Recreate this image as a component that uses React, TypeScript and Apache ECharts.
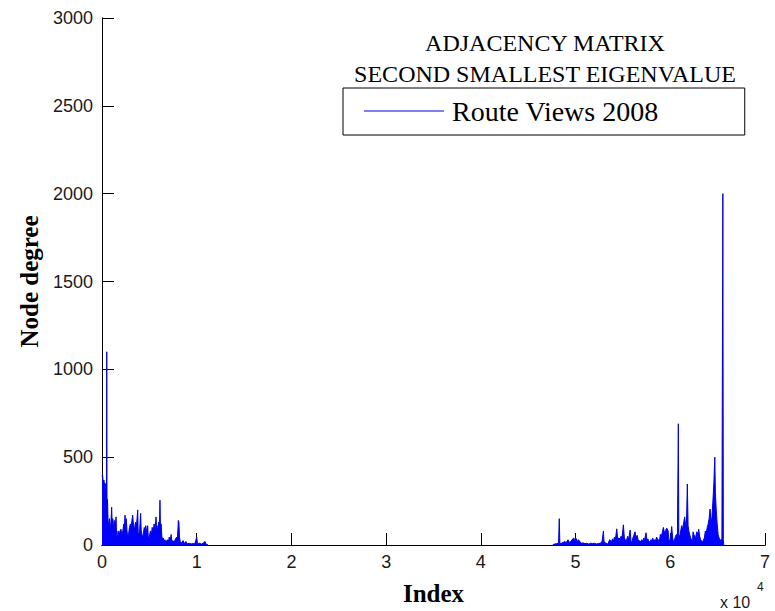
import React, { useEffect, useRef } from "react";
import * as echarts from "echarts";

const leftIndex = [
  0, 60, 120, 200, 280, 350, 420, 470, 500, 530, 580, 640, 700, 780, 860, 940, 1020, 1080, 1140, 1220,
  1300, 1380, 1480, 1540, 1620, 1700, 1800, 1900, 2000, 2100, 2200, 2300, 2350, 2430, 2480, 2560, 2640, 2720, 2800, 2900,
  3000, 3080, 3160, 3240, 3300, 3380, 3460, 3540, 3620, 3700, 3770, 3820, 3900, 3980, 4080, 4140, 4220, 4300, 4380, 4460,
  4540, 4620, 4700, 4780, 4820, 4880, 4960, 5040, 5120, 5200, 5300, 5400, 5500, 5600, 5700, 5760, 5820, 5900, 5980, 6060,
  6120, 6180, 6240, 6320, 6400, 6480, 6560, 6640, 6760, 6900, 7000, 7100, 7200, 7300, 7380, 7500, 7620, 7760, 7880, 7960,
  8060, 8120, 8180, 8260, 8400, 8560, 8700, 8860, 9000, 9200, 9400, 9600, 9800, 10000, 10080, 10300, 10500, 10700, 10880, 10960,
  11200,
];
const leftDegree = [
  390, 400, 360, 370, 340, 350, 300, 140, 1100, 160, 260, 140, 110, 150, 80, 130, 215, 110, 150, 90,
  140, 70, 160, 60, 40, 80, 50, 80, 90, 60, 80, 120, 70, 170, 100, 150, 80, 40, 60, 100,
  120, 100, 140, 170, 130, 110, 80, 130, 100, 150, 200, 70, 60, 90, 180, 80, 60, 40, 70, 100,
  80, 110, 80, 60, 110, 50, 40, 60, 80, 50, 100, 70, 120, 80, 160, 100, 110, 70, 130, 90,
  255, 80, 120, 50, 30, 40, 20, 30, 15, 30, 15, 45, 25, 60, 20, 25, 15, 35, 45, 30,
  140, 130, 45, 20, 12, 25, 8, 20, 6, 10, 6, 8, 6, 45, 6, 10, 5, 12, 20, 6,
  0,
];
const rightIndex = [
  47600, 47800, 48000, 48200, 48280, 48340, 48500, 48700, 48900, 49000, 49200, 49350, 49500, 49700, 49800, 49900, 50000, 50100, 50200, 50300,
  50450, 50600, 50800, 51000, 51200, 51400, 51600, 51800, 52000, 52200, 52400, 52600, 52800, 52940, 53000, 53200, 53400, 53600, 53700, 53800,
  53900, 54000, 54100, 54200, 54350, 54450, 54550, 54700, 54800, 54900, 55050, 55150, 55250, 55350, 55500, 55600, 55760, 55850, 55950, 56050,
  56150, 56280, 56380, 56500, 56600, 56700, 56800, 56900, 57000, 57100, 57200, 57300, 57440, 57540, 57640, 57740, 57850, 57950, 58050, 58150,
  58250, 58350, 58450, 58550, 58650, 58750, 58850, 58950, 59050, 59150, 59270, 59350, 59450, 59550, 59650, 59770, 59850, 59950, 60050, 60150,
  60250, 60350, 60450, 60550, 60650, 60750, 60850, 60900, 61000, 61100, 61200, 61300, 61420, 61520, 61600, 61700, 61800, 61880, 61960, 62050,
  62150, 62250, 62350, 62400, 62500, 62600, 62700, 62800, 62900, 63000, 63100, 63200, 63300, 63400, 63500, 63600, 63700, 63800, 63900, 64000,
  64100, 64200, 64300, 64400, 64500, 64600, 64700, 64760, 64850, 64950, 65050, 65150, 65250, 65350, 65450, 65550, 65600, 65650,
];
const rightDegree = [
  3, 5, 8, 10, 150, 8, 10, 15, 20, 12, 30, 15, 20, 35, 40, 25, 40, 35, 15, 30,
  20, 10, 12, 8, 10, 5, 10, 8, 10, 6, 8, 10, 20, 80, 20, 10, 5, 30, 25, 20,
  35, 20, 45, 30, 92, 30, 40, 35, 50, 40, 115, 40, 30, 20, 50, 30, 85, 20, 15, 40,
  55, 75, 40, 55, 30, 20, 25, 15, 30, 20, 40, 30, 70, 20, 35, 15, 20, 30, 25, 40,
  20, 30, 25, 45, 35, 30, 20, 60, 50, 70, 100, 80, 60, 90, 95, 80, 30, 20, 55, 105,
  40, 15, 30, 50, 60, 40, 690, 60, 45, 80, 110, 90, 130, 160, 120, 100, 347, 110, 80, 60,
  40, 30, 25, 75, 60, 40, 50, 75, 60, 90, 50, 30, 25, 15, 30, 40, 80, 70, 100, 120,
  150, 205, 120, 160, 250, 350, 500, 300, 200, 120, 60, 40, 30, 25, 35, 2000, 30, 0,
];

const xTicks = [0, 1, 2, 3, 4, 5, 6, 7]; // x 10^4
const yTicks = [0, 500, 1000, 1500, 2000, 2500, 3000];

const seriesName = "Route Views 2008";

export default function App() {
  const ref = useRef<HTMLDivElement>(null);

  useEffect(() => {
    if (!ref.current) return;
    const chart = echarts.init(ref.current, undefined, { renderer: "svg" });

    const data: (number | null)[][] = [];
    leftIndex.forEach((x, i) => data.push([x, leftDegree[i]]));
    data.push([30000, null]);
    rightIndex.forEach((x, i) => data.push([x, rightDegree[i]]));

    const xMin = xTicks[0] * 10000;
    const xMax = xTicks[xTicks.length - 1] * 10000;
    const yMin = yTicks[0];
    const yMax = yTicks[yTicks.length - 1];

    const labelFont = { fontFamily: "Liberation Sans, Arial, sans-serif", fontSize: 18, color: "#1a1a1a" };
    const TICK = 6;
    const lineOn = { show: true, lineStyle: { color: "#000", width: 1 } };
    // Frame axes (with labels) have no ticks; the tick-only axes are shifted inward by the tick length
    // so that their outward ticks end on the frame, as in a MATLAB box with inner ticks.
    const tickAxisX = (position: string) => ({
      type: "value",
      min: xMin,
      max: xMax,
      interval: 10000,
      position,
      offset: -TICK,
      axisLine: { show: false },
      axisTick: { show: true, inside: false, length: TICK, lineStyle: { color: "#000", width: 1 } },
      axisLabel: { show: false },
      splitLine: { show: false },
    });
    const tickAxisY = (position: string) => ({
      type: "value",
      min: yMin,
      max: yMax,
      interval: 500,
      position,
      offset: -TICK,
      axisLine: { show: false },
      axisTick: { show: true, inside: false, length: TICK, lineStyle: { color: "#000", width: 1 } },
      axisLabel: { show: false },
      splitLine: { show: false },
    });

    chart.setOption({
      animation: false,
      backgroundColor: "#fff",
      title: {
        text: "ADJACENCY MATRIX\nSECOND SMALLEST EIGENVALUE",
        left: 545,
        top: 27,
        textAlign: "center",
        padding: 0,
        textStyle: {
          fontFamily: "Liberation Serif, Times New Roman, serif",
          fontSize: 24,
          fontWeight: "normal",
          lineHeight: 31,
          color: "#000",
        },
      },
      legend: {
        left: 343,
        top: 88,
        padding: [9, 86, 10, 21],
        borderColor: "#000",
        borderWidth: 1,
        backgroundColor: "#fff",
        itemWidth: 80,
        itemHeight: 1,
        itemGap: 0,
        data: [{ name: seriesName, icon: "rect" }],
        textStyle: {
          fontFamily: "Liberation Serif, Times New Roman, serif",
          fontSize: 28,
          color: "#000",
          padding: [0, 0, 0, 3],
        },
      },
      grid: { left: 102, right: 10, top: 18, bottom: 63, containLabel: false },
      xAxis: [
        {
          type: "value",
          min: xMin,
          max: xMax,
          interval: 10000,
          position: "bottom",
          axisLine: lineOn,
          axisTick: { show: false },
          splitLine: { show: false },
          axisLabel: { ...labelFont, margin: 8, formatter: (v: number) => String(v / 10000) },
          name: "Index",
          nameLocation: "middle",
          nameGap: 36,
          nameTextStyle: {
            fontFamily: "Liberation Serif, Times New Roman, serif",
            fontSize: 25,
            fontWeight: "bold",
            color: "#000",
          },
        },
        {
          type: "value",
          min: xMin,
          max: xMax,
          interval: 10000,
          position: "top",
          axisLine: lineOn,
          axisTick: { show: false },
          splitLine: { show: false },
          axisLabel: { show: false },
        },
        tickAxisX("bottom"),
        tickAxisX("top"),
      ],
      yAxis: [
        {
          type: "value",
          min: yMin,
          max: yMax,
          interval: 500,
          position: "left",
          axisLine: lineOn,
          axisTick: { show: false },
          splitLine: { show: false },
          axisLabel: { ...labelFont, margin: 9, formatter: (v: number) => String(v) },
          name: "Node degree",
          nameLocation: "middle",
          nameGap: 48,
          nameTextStyle: {
            fontFamily: "Liberation Serif, Times New Roman, serif",
            fontSize: 25,
            fontWeight: "bold",
            color: "#000",
          },
        },
        {
          type: "value",
          min: yMin,
          max: yMax,
          interval: 500,
          position: "right",
          axisLine: lineOn,
          axisTick: { show: false },
          splitLine: { show: false },
          axisLabel: { show: false },
        },
        tickAxisY("left"),
        tickAxisY("right"),
      ],
      series: [
        {
          name: seriesName,
          type: "line",
          data,
          symbol: "none",
          connectNulls: false,
          xAxisIndex: 0,
          yAxisIndex: 0,
          lineStyle: { color: "#0000e0", width: 1 },
          itemStyle: { color: "#0000e0" },
          areaStyle: { color: "#0000ff", opacity: 1, origin: "start" },
          z: 3,
        },
      ],
      graphic: [
        {
          type: "text",
          left: 720,
          top: 594,
          style: { text: "x 10", fontFamily: "Liberation Sans, Arial, sans-serif", fontSize: 16, fill: "#1a1a1a" },
        },
        {
          type: "text",
          left: 757,
          top: 581,
          style: { text: "4", fontFamily: "Liberation Sans, Arial, sans-serif", fontSize: 12, fill: "#1a1a1a" },
        },
      ],
    });

    return () => chart.dispose();
  }, []);

  return (
    <div
      ref={ref}
      style={{ position: "fixed", left: 0, top: 0, width: 775, height: 611, background: "#fff" }}
    />
  );
}
